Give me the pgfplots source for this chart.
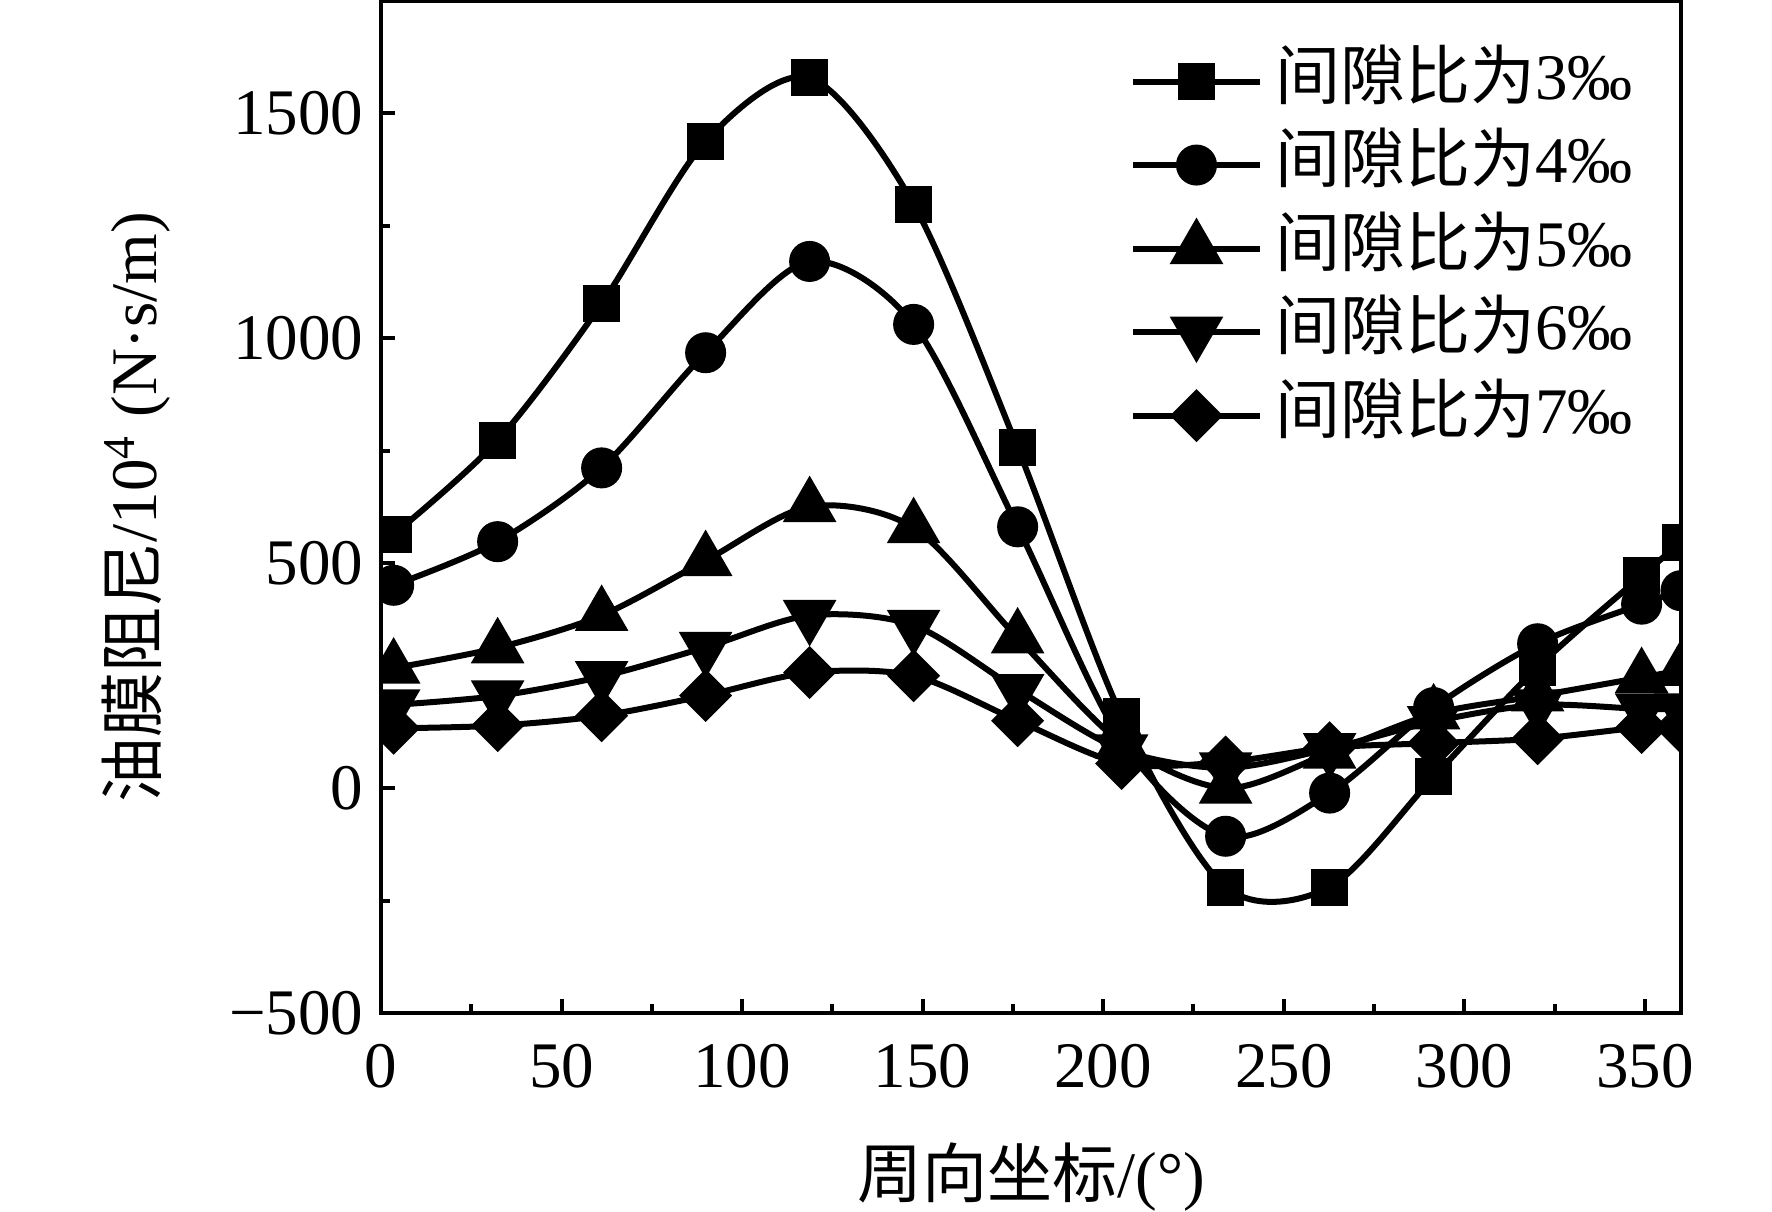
\documentclass[border=0pt]{standalone}
\usepackage{pgfplots}
\pgfplotsset{compat=1.18}
\usepackage{pgfplotstable}
\usepackage{fontspec}
\setmainfont{Liberation Serif}
\newfontfamily\cjk{Noto Sans CJK SC}

\pgfplotstableread{
x c3 c4 c5 c6 c7
3.5 564 451 267 185 133
32.3 773 548 312 205 139
61.1 1077 712 384 248 161
89.9 1438 968 506 313 206
118.7 1579 1171 626 384 257
147.5 1298 1031 579 362 250
176.3 757 581 334 219 150
205.1 160 105 100 85 55
233.9 -220 -107 0 45 58
262.7 -220 -11 78 88 90
291.5 25 179 165 148 100
320.3 269 321 205 185 110
349.1 472 409 246 176 135
360 546 439 262 176 135
}\data

\begin{document}
\begin{tikzpicture}
\useasboundingbox (-76.2pt,-39.6pt) rectangle (278.2pt,202.6pt);
\begin{axis}[
  scale only axis, width=260pt, height=202.4pt,
  xmin=0, xmax=360, ymin=-500, ymax=1750,
  clip marker paths=true,
  xtick={0,50,...,350},
  ytick={-500,0,500,1000,1500},
  yticklabels={−500,0,500,1000,1500},
  minor x tick num=1, minor y tick num=1,
  tick align=inside, xtick pos=bottom, ytick pos=left,
  major tick length=2.8pt, minor tick length=1.8pt,
  every tick/.style={black, line width=0.8pt},
  axis line style={line width=0.8pt},
  font=\fontsize{13}{15.6}\selectfont,
  tick label style={font=\fontsize{13}{15.6}\selectfont},
  /pgf/number format/assume math mode=true,
  xticklabel style={yshift=-2.7pt},
  xlabel={{\cjk 周向坐标}/(°)},
  ylabel={{\cjk 油膜阻尼}/10\textsuperscript{4} (N·s/m)},
  xlabel style={at={(axis description cs:0.5,-0.162)}, anchor=center},
  ylabel style={at={(axis description cs:-0.1885,0.5)}, anchor=center},
  legend cell align=left,
  legend style={draw=none, fill=none, at={(axis description cs:0.5754,0.956)}, anchor=north west,
    inner sep=0pt, column sep=2pt, row sep=2.7pt,
    nodes={inner sep=0.5pt, text height=10pt, text depth=3pt}},
  legend image code/.code={\draw[mark repeat=2,mark phase=2] plot coordinates {(0pt,0pt) (12.7pt,0pt) (25.4pt,0pt)};},
]
\addplot[black, line width=1.2pt, smooth, mark=square*, mark size=3.1pt, mark options={solid, fill=black}] table[x=x, y=c3] {\data};
\addlegendentry{{\cjk 间隙比为}3‰}
\addplot[black, line width=1.2pt, smooth, mark=*, mark size=3.5pt, mark options={solid, fill=black}] table[x=x, y=c4] {\data};
\addlegendentry{{\cjk 间隙比为}4‰}
\addplot[black, line width=1.2pt, smooth, mark=triangle*, mark size=5pt, mark options={solid, fill=black}] table[x=x, y=c5] {\data};
\addlegendentry{{\cjk 间隙比为}5‰}
\addplot[black, line width=1.2pt, smooth, mark=triangle*, mark size=5pt, mark options={solid, fill=black, rotate=180}] table[x=x, y=c6] {\data};
\addlegendentry{{\cjk 间隙比为}6‰}
\addplot[black, line width=1.2pt, smooth, mark=square*, mark size=3.15pt, mark options={solid, fill=black, rotate=45}] table[x=x, y=c7] {\data};
\addlegendentry{{\cjk 间隙比为}7‰}
\end{axis}
\end{tikzpicture}
\end{document}
